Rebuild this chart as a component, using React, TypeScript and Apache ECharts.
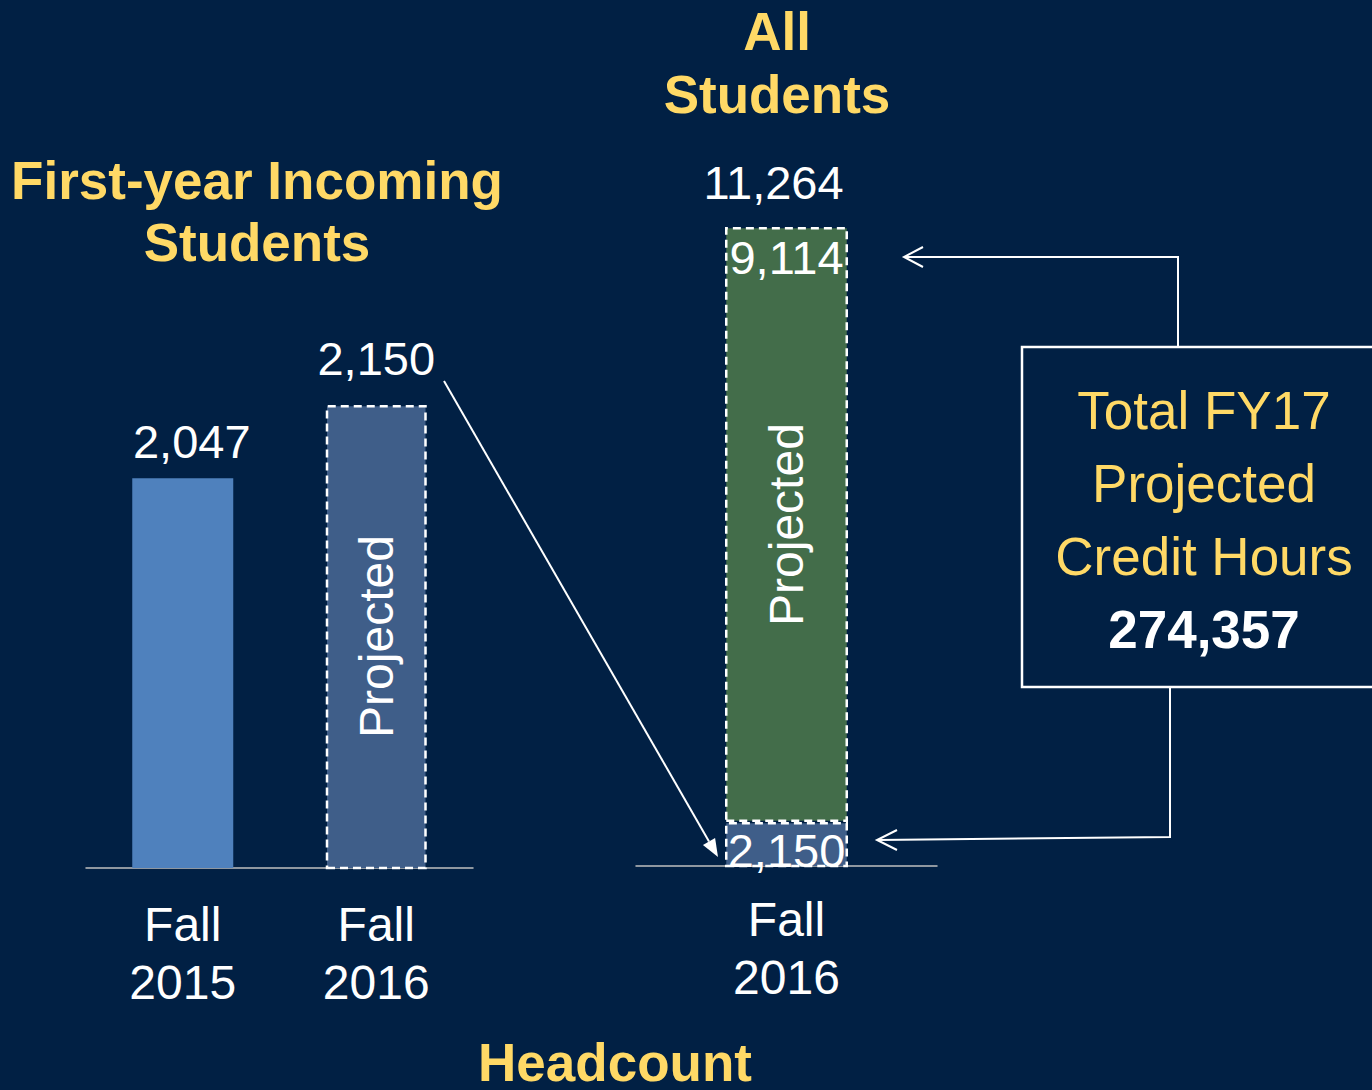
import React, { useEffect, useRef } from "react";
import * as echarts from "echarts";

// ---- data ----
const leftCategories = ["Fall\n2015", "Fall\n2016"];
const firstYearHeadcount = [2047, 2150];
const leftProjected = [false, true];
const rightCategories = ["Fall\n2016"];
const firstYearSegment = [2150];
const continuingSegment = [9114];
const creditHoursLabel = ["Total FY17", "Projected", "Credit Hours"];
const creditHoursTotal = 274357;

const LEFT_MIN = 1500;
const RIGHT_MIN = 1478;

const BG = "#012044";
const YELLOW = "#FFD966";
const FONT = "'Liberation Sans', Arial, Helvetica, sans-serif";
const fmt = (v: number) => v.toLocaleString("en-US");

export default function App() {
  const ref = useRef<HTMLDivElement>(null);
  useEffect(() => {
    if (!ref.current) return;
    const chart = echarts.init(ref.current, undefined, { renderer: "svg" });
    const total = firstYearSegment[0] + continuingSegment[0];

    const dashed = {
      borderColor: "#ffffff",
      borderWidth: 2.5,
      borderType: [8, 5] as any,
    };

    const leftLabelTweaks = [
      { distance: 13, offset: [9, 0] },
      { distance: 23, offset: [0, 0] },
    ];

    // arrow geometry for the diagonal connector
    const a0 = [444, 381];
    const a1 = [718, 857];
    const dx = a1[0] - a0[0];
    const dy = a1[1] - a0[1];
    const len = Math.sqrt(dx * dx + dy * dy);
    const ux = dx / len;
    const uy = dy / len;
    const hl = 18;
    const hw = 7;
    const bx = a1[0] - ux * hl;
    const by = a1[1] - uy * hl;

    const option: any = {
      animation: false,
      backgroundColor: BG,
      grid: [
        { left: 86, width: 387, top: 405, height: 463, containLabel: false },
        { left: 636, width: 301, top: 227, height: 639, containLabel: false },
      ],
      xAxis: [
        {
          type: "category",
          gridIndex: 0,
          data: leftCategories,
          axisTick: { show: false },
          axisLine: { lineStyle: { color: "#BFBFBF", width: 1.5 } },
          axisLabel: {
            interval: 0,
            color: "#ffffff",
            fontSize: 48,
            lineHeight: 58,
            margin: 27,
            fontFamily: FONT,
          },
        },
        {
          type: "category",
          gridIndex: 1,
          data: rightCategories,
          axisTick: { show: false },
          axisLine: { lineStyle: { color: "#BFBFBF", width: 1.5 } },
          axisLabel: {
            interval: 0,
            color: "#ffffff",
            fontSize: 48,
            lineHeight: 58,
            margin: 24,
            fontFamily: FONT,
          },
        },
      ],
      yAxis: [
        { type: "value", gridIndex: 0, min: LEFT_MIN, max: firstYearHeadcount[1], show: false },
        { type: "value", gridIndex: 1, min: RIGHT_MIN, max: total, show: false },
      ],
      series: [
        {
          type: "bar",
          xAxisIndex: 0,
          yAxisIndex: 0,
          barWidth: 101,
          data: firstYearHeadcount.map((v, i) => ({
            value: v,
            itemStyle: leftProjected[i]
              ? { color: "#3F5E89", ...dashed }
              : { color: "#4F81BD" },
            label: leftLabelTweaks[i],
          })),
          label: {
            show: true,
            position: "top",
            color: "#ffffff",
            fontSize: 47,
            fontFamily: FONT,
            formatter: (p: any) => fmt(p.value),
          },
          markPoint: {
            symbol: "rect",
            symbolSize: 1,
            itemStyle: { color: "rgba(0,0,0,0)" },
            label: {
              show: true,
              position: "inside",
              rotate: 90,
              color: "#ffffff",
              fontSize: 48,
              fontFamily: FONT,
              formatter: "Projected",
            },
            data: firstYearHeadcount
              .map((v, i) => ({ v, i }))
              .filter((d) => leftProjected[d.i])
              .map((d) => ({ coord: [d.i, (LEFT_MIN + d.v) / 2] })),
          },
        },
        {
          type: "bar",
          xAxisIndex: 1,
          yAxisIndex: 1,
          stack: "all",
          barWidth: 123,
          data: firstYearSegment,
          itemStyle: { color: "#3F5E89", ...dashed },
          label: {
            show: true,
            position: "inside",
            offset: [0, 6],
            color: "#ffffff",
            fontSize: 47,
            fontFamily: FONT,
            formatter: (p: any) => fmt(p.value),
          },
          markPoint: {
            symbol: "rect",
            symbolSize: 1,
            itemStyle: { color: "rgba(0,0,0,0)" },
            data: [
              {
                coord: [0, (firstYearSegment[0] + total) / 2],
                label: {
                  show: true,
                  position: "inside",
                  rotate: 90,
                  color: "#ffffff",
                  fontSize: 48,
                  fontFamily: FONT,
                  formatter: "Projected",
                },
              },
              {
                coord: [0, total],
                label: {
                  show: true,
                  position: "inside",
                  offset: [-13, -45],
                  color: "#ffffff",
                  fontSize: 47,
                  fontFamily: FONT,
                  formatter: fmt(total),
                },
              },
            ],
          },
        },
        {
          type: "bar",
          xAxisIndex: 1,
          yAxisIndex: 1,
          stack: "all",
          barWidth: 123,
          data: continuingSegment,
          itemStyle: { color: "#436D4A", ...dashed },
          label: {
            show: true,
            position: "insideTop",
            distance: 7,
            color: "#ffffff",
            fontSize: 47,
            fontFamily: FONT,
            formatter: (p: any) => fmt(p.value),
          },
        },
      ],
      graphic: [
        {
          type: "text",
          style: {
            text: "First-year Incoming\nStudents",
            x: 257,
            y: 211,
            align: "center",
            verticalAlign: "middle",
            fill: YELLOW,
            font: `bold 53px ${FONT}`,
            lineHeight: 62,
          },
        },
        {
          type: "text",
          style: {
            text: "All\nStudents",
            x: 777,
            y: 63,
            align: "center",
            verticalAlign: "middle",
            fill: YELLOW,
            font: `bold 53px ${FONT}`,
            lineHeight: 63,
          },
        },
        {
          type: "text",
          style: {
            text: "Headcount",
            x: 615,
            y: 1062,
            align: "center",
            verticalAlign: "middle",
            fill: YELLOW,
            font: `bold 53px ${FONT}`,
            lineHeight: 50,
          },
        },
        {
          type: "rect",
          shape: { x: 1022, y: 347, width: 400, height: 340 },
          style: { fill: BG, stroke: "#ffffff", lineWidth: 2.5 },
        },
        ...creditHoursLabel.map((t, i) => ({
          type: "text",
          style: {
            text: t,
            x: 1204,
            y: 410 + i * 73,
            align: "center",
            verticalAlign: "middle",
            fill: YELLOW,
            font: `53px ${FONT}`,
          },
        })),
        {
          type: "text",
          style: {
            text: fmt(creditHoursTotal),
            x: 1204,
            y: 629,
            align: "center",
            verticalAlign: "middle",
            fill: "#ffffff",
            font: `bold 53px ${FONT}`,
          },
        },
        {
          type: "polyline",
          shape: { points: [[1178, 347], [1178, 257], [905, 257]] },
          style: { stroke: "#ffffff", lineWidth: 2, fill: "none" },
        },
        {
          type: "polyline",
          shape: { points: [[923, 247], [904, 257], [923, 267]] },
          style: { stroke: "#ffffff", lineWidth: 2, fill: "none" },
        },
        {
          type: "polyline",
          shape: { points: [[1170, 687], [1170, 837], [878, 840]] },
          style: { stroke: "#ffffff", lineWidth: 2, fill: "none" },
        },
        {
          type: "polyline",
          shape: { points: [[897, 830], [877, 840], [897, 850]] },
          style: { stroke: "#ffffff", lineWidth: 2, fill: "none" },
        },
        {
          type: "line",
          shape: { x1: a0[0], y1: a0[1], x2: bx, y2: by },
          style: { stroke: "#ffffff", lineWidth: 2 },
        },
        {
          type: "polygon",
          shape: {
            points: [
              [a1[0], a1[1]],
              [bx - uy * hw, by + ux * hw],
              [bx + uy * hw, by - ux * hw],
            ],
          },
          style: { fill: "#ffffff" },
        },
      ],
    };
    chart.setOption(option);
    return () => chart.dispose();
  }, []);

  return (
    <div
      ref={ref}
      style={{ position: "absolute", left: 0, top: 0, width: 1372, height: 1090 }}
    />
  );
}
